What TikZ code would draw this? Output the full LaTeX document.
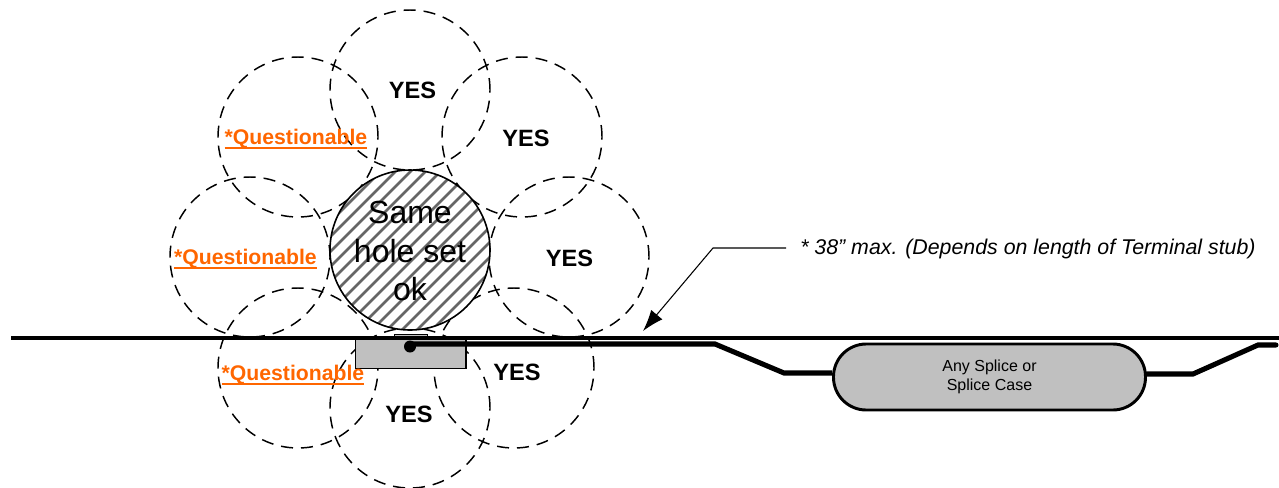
\documentclass[tikz,border=0pt]{standalone}
\usepackage{fontspec}
\setmainfont{Liberation Sans}
\usetikzlibrary{arrows.meta}
\definecolor{qorange}{RGB}{255,102,0}
\definecolor{boxgrey}{RGB}{192,192,192}
\newlength{\qwidth}
\newcommand{\qunder}[1]{\settowidth{\qwidth}{#1}\rlap{\rule[-3pt]{\qwidth}{1.5pt}}#1}
\tikzset{
  x=0.75pt,y=-0.75pt,
  zone/.style={circle,draw=black,dashed,dash pattern=on 9pt off 6pt,line width=1.1pt,minimum size=120pt,inner sep=0pt},
  yeslabel/.style={font=\fontsize{17.7}{20}\selectfont\bfseries,text=black,inner sep=0pt},
  qlabel/.style={font=\fontsize{15.9}{18}\selectfont\bfseries,text=qorange,inner sep=0pt},
  wire/.style={line width=3.8pt,line join=miter},
  ground/.style={line width=2.3pt},
}
\begin{document}
\begin{tikzpicture}
\useasboundingbox (0,0) rectangle (1279,487);
% dashed zones
\node[zone] (ztop) at (410,90) {};
\node[zone] (zur) at (522,137) {};
\node[zone] (zr) at (569,257) {};
\node[zone] (zlr) at (514,368) {};
\node[zone] (zbot) at (410,408) {};
\node[zone] (zll) at (298,368) {};
\node[zone] (zl) at (250,257) {};
\node[zone] (zul) at (298,137) {};
% ground line
\coordinate (gl) at (11,338);
\coordinate (gr) at (1279,338);
\draw[ground] (gl) -- (gr);
% centre hatched circle
\fill[white] (410,250) circle (80);
\begin{scope}
\clip (410,250) circle (80);
\foreach \k in {-12,...,12}{
  \draw[line width=2pt,black!60] ({407+\k*15-120},{250+120}) -- ({407+\k*15+120},{250-120});
}
\end{scope}
\node[circle,draw=black,line width=1.2pt,minimum size=120pt,inner sep=0pt,align=center] (same) at (410,250) {};
\node[align=center,inner sep=0pt,font=\fontsize{24}{29}\selectfont] (samet) at (410,251) {Same\\hole set\\ok};
% terminal
\node[draw=black,fill=boxgrey,line width=0.8pt,minimum width=25pt,minimum height=2.5pt,inner sep=0pt] (cap) at (411,336.5) {};
\draw[ground] (355,338) -- (466,338);
\node[draw=black,fill=boxgrey,line width=1pt,minimum width=83pt,minimum height=22pt,inner sep=0pt] (term) at (410.5,353.5) {};
% splice
\node[draw=black,fill=boxgrey,line width=2.2pt,rounded corners=24.5pt,minimum width=234pt,minimum height=49.5pt,inner sep=0pt,align=center,font=\fontsize{12}{14.25}\selectfont] (splice) at (989.5,377) {Any Splice or\\Splice Case};
% stub
\fill (410,346.5) circle (6) coordinate (dot);
\coordinate (s0) at (410,344);
\coordinate (s1) at (715,344);
\coordinate (s2) at (784,373);
\coordinate (s3) at (1193,374);
\coordinate (s4) at (1258,345);
\coordinate (s5) at (1276,345);
\draw[wire] (s0) -- (s1) -- (s2) -- (s2 -| splice.west);
\draw[wire,line cap=round] (s3 -| splice.east) -- (s3) -- (s4) -- (s5);
% leader
\node[anchor=west,inner sep=0pt,font=\fontsize{16}{18}\selectfont\itshape] (note) at (800,249) {* 38" max. (Depends on length of Terminal stub)};
\coordinate (l0) at (786,248);
\coordinate (l1) at (713,248);
\coordinate (l2) at (643,331);
\draw[line width=0.8pt,-{Latex[length=16pt,width=11pt]}] (l0) -- (l1) -- (l2);
% labels
\node[yeslabel] (y1) at (412.5,90) {YES};
\node[yeslabel] (y2) at (526,138) {YES};
\node[yeslabel] (y3) at (569.5,258) {YES};
\node[yeslabel] (y4) at (517,372.5) {YES};
\node[yeslabel] (y5) at (409,414.5) {YES};
\node[qlabel] (q1) at (296,139) {\qunder{*Questionable}};
\node[qlabel] (q2) at (245.5,259) {\qunder{*Questionable}};
\node[qlabel] (q3) at (293,375) {\qunder{*Questionable}};
\end{tikzpicture}
\end{document}
